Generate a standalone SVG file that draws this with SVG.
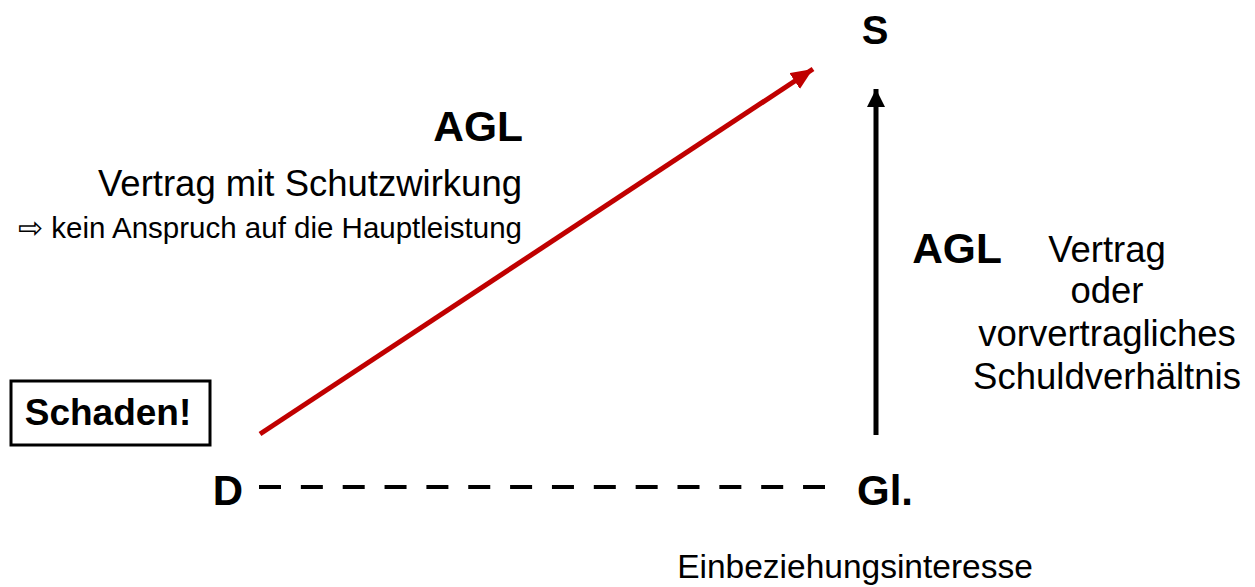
<svg xmlns="http://www.w3.org/2000/svg" width="1255" height="587" viewBox="0 0 1255 587">
<style>
  text { font-family: "Liberation Sans", Arial, sans-serif; fill: #000; }
  .b { font-weight: bold; }
  .r36 { font-size: 36.5px; }
</style>
<defs>
  <marker id="ahRed" markerUnits="userSpaceOnUse" markerWidth="24" markerHeight="20" refX="22" refY="9.5" orient="auto">
    <path d="M0,0 L22,9.5 L0,19 Z" fill="#C00000"/>
  </marker>
  <marker id="ahBlack" markerUnits="userSpaceOnUse" markerWidth="24" markerHeight="20" refX="18" refY="9" orient="auto">
    <path d="M0,0 L18,9 L0,18 Z" fill="#000"/>
  </marker>
</defs>
<rect width="1255" height="587" fill="#fff"/>

<g id="connectors">
  <line x1="260" y1="434" x2="813" y2="69" stroke="#C00000" stroke-width="5" marker-end="url(#ahRed)"/>
  <line x1="876" y1="435" x2="876" y2="89" stroke="#000" stroke-width="5" marker-end="url(#ahBlack)"/>
  <line x1="259" y1="487" x2="825" y2="487" stroke="#000" stroke-width="4" stroke-dasharray="22 19.85"/>
</g>

<g id="node-S">
  <text class="b" x="875" y="44" font-size="40" text-anchor="middle">S</text>
</g>
<g id="node-D">
  <text class="b" x="228" y="505" font-size="42" text-anchor="middle">D</text>
</g>
<g id="node-Gl">
  <text class="b" x="857" y="505" font-size="42">Gl.</text>
</g>
<g id="node-schaden">
  <rect x="11" y="381" width="199" height="64" fill="#fff" stroke="#000" stroke-width="3"/>
  <text class="b" x="108" y="425" font-size="37" text-anchor="middle">Schaden!</text>
</g>
<g id="label-left">
  <text class="b" x="523" y="141" font-size="42.5" text-anchor="end">AGL</text>
  <text class="r36" x="522" y="196" text-anchor="end" font-size="37">Vertrag mit Schutzwirkung</text>
  <text x="522" y="238" font-size="29.5" text-anchor="end">⇨ kein Anspruch auf die Hauptleistung</text>
</g>
<g id="label-right">
  <text class="b" x="957" y="263" font-size="42.5" text-anchor="middle">AGL</text>
  <text class="r36" x="1107" y="262" text-anchor="middle">Vertrag</text>
  <text class="r36" x="1107" y="303" text-anchor="middle">oder</text>
  <text class="r36" x="1107" y="346" text-anchor="middle">vorvertragliches</text>
  <text class="r36" x="1107" y="389" text-anchor="middle">Schuldverhältnis</text>
</g>
<g id="label-bottom">
  <text x="855" y="578" font-size="33.5" text-anchor="middle">Einbeziehungsinteresse</text>
</g>
</svg>
